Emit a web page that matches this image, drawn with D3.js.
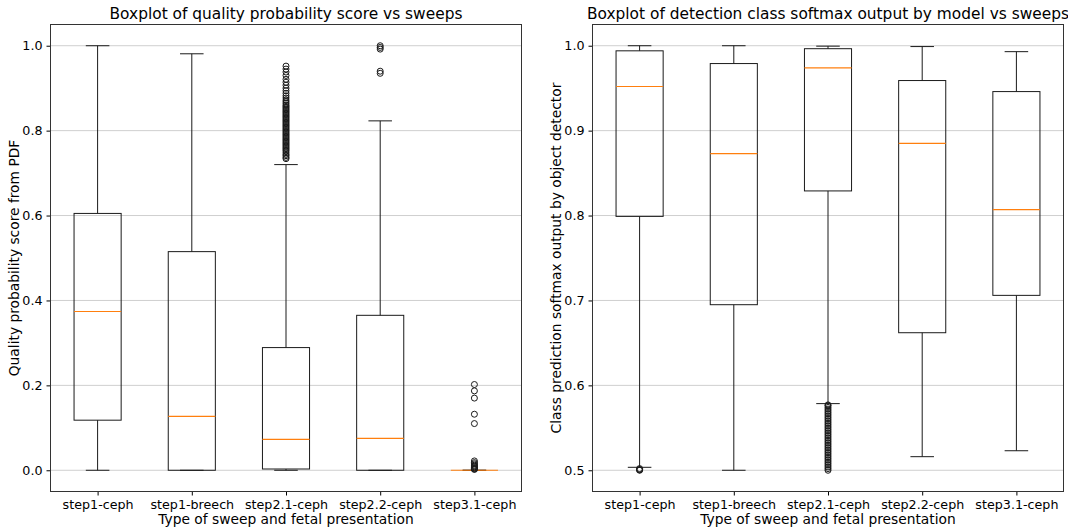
<!DOCTYPE html>
<html>
<head>
<meta charset="utf-8">
<script src="https://cdn.jsdelivr.net/npm/d3@7"></script>
<style>
  body { margin: 0; background: #fff; }
  svg { display: block; font-family: "DejaVu Sans", sans-serif; }
</style>
</head>
<body>
<svg id="chart" width="1068" height="529"></svg>
<script>
// Sweep categories shared by both panels
const categories = ["step1-ceph", "step1-breech", "step2.1-ceph", "step2.2-ceph", "step3.1-ceph"];

// Left panel: quality probability score summary statistics per category
const qualityWhiskerLow  = [0.0, 0.0, 0.0, 0.0, 0.0];
const qualityQ1          = [0.118, 0.0, 0.003, 0.0, 0.0];
const qualityMedian      = [0.374, 0.127, 0.073, 0.075, 0.0];
const qualityQ3          = [0.605, 0.515, 0.289, 0.365, 0.0];
const qualityWhiskerHigh = [1.0, 0.981, 0.720, 0.823, 0.0];
const qualityOutliers = [
  [],
  [],
  [0.734, 0.737, 0.741, 0.744, 0.748, 0.752, 0.755, 0.758, 0.761, 0.764, 0.767, 0.770, 0.773,
   0.776, 0.779, 0.782, 0.785, 0.788, 0.791, 0.794, 0.797, 0.800, 0.803, 0.806, 0.809, 0.812,
   0.815, 0.818, 0.821, 0.824, 0.827, 0.830, 0.833, 0.836, 0.839, 0.842, 0.845, 0.848, 0.851,
   0.854, 0.857, 0.860, 0.864, 0.868, 0.872, 0.877, 0.882, 0.888, 0.894, 0.900, 0.907, 0.914,
   0.921, 0.930, 0.938, 0.945, 0.952],
  [0.935, 0.940, 0.992, 0.996, 1.0],
  [0.002, 0.003, 0.004, 0.006, 0.008, 0.010, 0.012, 0.015, 0.018, 0.022, 0.110, 0.132, 0.170, 0.187, 0.202]
];
const qualityTicks = [0.0, 0.2, 0.4, 0.6, 0.8, 1.0];

// Right panel: detection class softmax output summary statistics per category
const softmaxWhiskerLow  = [0.5035, 0.5, 0.5785, 0.516, 0.523];
const softmaxQ1          = [0.799, 0.695, 0.829, 0.662, 0.706];
const softmaxMedian      = [0.952, 0.873, 0.974, 0.885, 0.807];
const softmaxQ3          = [0.994, 0.979, 0.9965, 0.959, 0.946];
const softmaxWhiskerHigh = [1.0, 1.0, 0.9995, 0.999, 0.993];
const softmaxOutliers = [
  [0.500, 0.5005, 0.501, 0.502],
  [],
  [0.500, 0.502, 0.504, 0.506, 0.508, 0.510, 0.512, 0.514, 0.516, 0.518, 0.520, 0.522, 0.524,
   0.526, 0.528, 0.530, 0.532, 0.534, 0.536, 0.538, 0.540, 0.542, 0.544, 0.546, 0.548, 0.550,
   0.552, 0.554, 0.556, 0.558, 0.560, 0.562, 0.564, 0.566, 0.568, 0.570, 0.572, 0.574, 0.576, 0.577],
  [],
  []
];
const softmaxTicks = [0.5, 0.6, 0.7, 0.8, 0.9, 1.0];

const svg = d3.select("#chart");

function drawPanel(cfg) {
  const { left, right, top, bottom, domain, ticks, tickFormat, title, ylabel, xlabel,
          low, q1, med, q3, high, outliers } = cfg;
  const g = svg.append("g");

  const x = d3.scalePoint().domain(categories).range([left, right]).padding(0.5);
  const y = d3.scaleLinear().domain(domain).range([bottom, top]);
  const step = x.step();
  const boxW = step * 0.5;
  const capW = boxW * 0.5;

  // horizontal grid
  g.append("g").selectAll("line").data(ticks).join("line")
    .attr("x1", left).attr("x2", right)
    .attr("y1", d => y(d)).attr("y2", d => y(d))
    .attr("stroke", "#cfcfcf").attr("stroke-width", 1);

  const boxes = g.append("g").selectAll("g").data(categories).join("g");
  const lineColor = "#1a1a1a";

  // whiskers
  boxes.append("line")
    .attr("x1", c => x(c)).attr("x2", c => x(c))
    .attr("y1", (c, i) => y(q1[i])).attr("y2", (c, i) => y(low[i]))
    .attr("stroke", lineColor);
  boxes.append("line")
    .attr("x1", c => x(c)).attr("x2", c => x(c))
    .attr("y1", (c, i) => y(q3[i])).attr("y2", (c, i) => y(high[i]))
    .attr("stroke", lineColor);
  // caps
  boxes.append("line")
    .attr("x1", c => x(c) - capW / 2).attr("x2", c => x(c) + capW / 2)
    .attr("y1", (c, i) => y(low[i])).attr("y2", (c, i) => y(low[i]))
    .attr("stroke", lineColor);
  boxes.append("line")
    .attr("x1", c => x(c) - capW / 2).attr("x2", c => x(c) + capW / 2)
    .attr("y1", (c, i) => y(high[i])).attr("y2", (c, i) => y(high[i]))
    .attr("stroke", lineColor);
  // box
  boxes.append("rect")
    .attr("x", c => x(c) - boxW / 2).attr("width", boxW)
    .attr("y", (c, i) => y(q3[i])).attr("height", (c, i) => y(q1[i]) - y(q3[i]))
    .attr("fill", "none").attr("stroke", lineColor);
  // median
  boxes.append("line")
    .attr("x1", c => x(c) - boxW / 2).attr("x2", c => x(c) + boxW / 2)
    .attr("y1", (c, i) => y(med[i])).attr("y2", (c, i) => y(med[i]))
    .attr("stroke", "#ff7f0e").attr("stroke-width", 1.2);
  // outliers
  boxes.selectAll("circle").data((c, i) => outliers[i].map(v => ({ c, v }))).join("circle")
    .attr("cx", d => x(d.c)).attr("cy", d => y(d.v)).attr("r", 3)
    .attr("fill", "none").attr("stroke", lineColor).attr("stroke-width", 1);

  // axes
  const yAxis = g.append("g").attr("transform", `translate(${left},0)`)
    .call(d3.axisLeft(y).tickValues(ticks).tickFormat(tickFormat).tickSize(4).tickPadding(4));
  const xAxis = g.append("g").attr("transform", `translate(0,${bottom})`)
    .call(d3.axisBottom(x).tickSize(4).tickPadding(4));
  [yAxis, xAxis].forEach(a => {
    a.select(".domain").remove();
    a.selectAll("text").attr("font-size", 12.7).attr("fill", "#000")
      .attr("font-family", "DejaVu Sans, sans-serif");
    a.selectAll("line").attr("stroke", "#000");
  });

  // frame
  g.append("rect").attr("x", left).attr("y", top)
    .attr("width", right - left).attr("height", bottom - top)
    .attr("fill", "none").attr("stroke", "#333").attr("stroke-width", 1);

  // title and labels
  g.append("text").attr("x", (left + right) / 2).attr("y", top - 6)
    .attr("text-anchor", "middle").attr("font-size", 15.4).text(title);
  g.append("text").attr("x", (left + right) / 2).attr("y", bottom + 32)
    .attr("text-anchor", "middle").attr("font-size", 13.8).text(xlabel);
  g.append("text")
    .attr("transform", `translate(${left - 32},${(top + bottom) / 2}) rotate(-90)`)
    .attr("text-anchor", "middle").attr("font-size", 13.8).text(ylabel);
}

drawPanel({
  left: 50.5, right: 521.5, top: 24.5, bottom: 491.5,
  domain: [-0.05, 1.05], ticks: qualityTicks, tickFormat: d3.format(".1f"),
  title: "Boxplot of quality probability score vs sweeps",
  ylabel: "Quality probability score from PDF",
  xlabel: "Type of sweep and fetal presentation",
  low: qualityWhiskerLow, q1: qualityQ1, med: qualityMedian, q3: qualityQ3,
  high: qualityWhiskerHigh, outliers: qualityOutliers
});

drawPanel({
  left: 592.5, right: 1063.5, top: 24.5, bottom: 491.5,
  domain: [0.475, 1.025], ticks: softmaxTicks, tickFormat: d3.format(".1f"),
  title: "Boxplot of detection class softmax output by model vs sweeps",
  ylabel: "Class prediction softmax output by object detector",
  xlabel: "Type of sweep and fetal presentation",
  low: softmaxWhiskerLow, q1: softmaxQ1, med: softmaxMedian, q3: softmaxQ3,
  high: softmaxWhiskerHigh, outliers: softmaxOutliers
});
</script>
</body>
</html>
